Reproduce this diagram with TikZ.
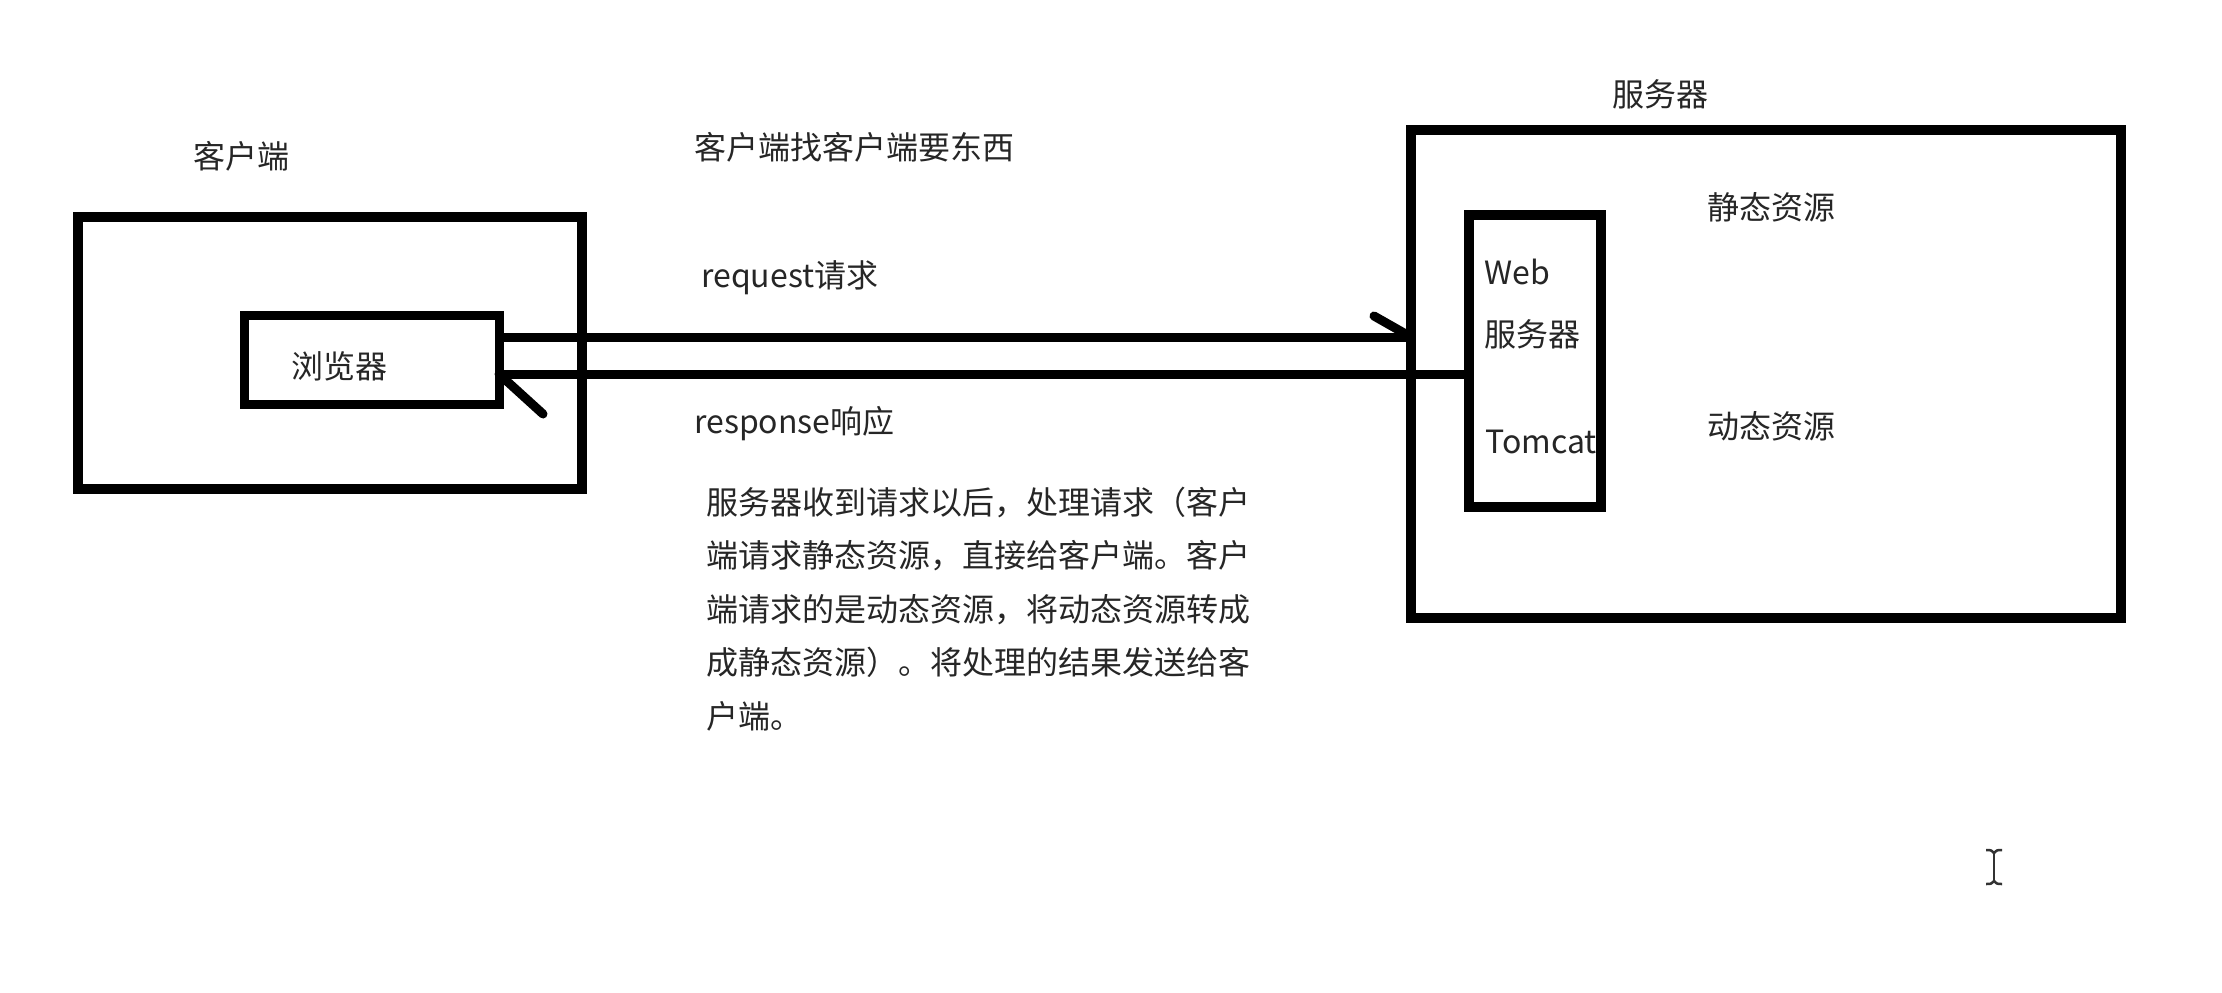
\documentclass[tikz,border=0pt]{standalone}
\usepackage{fontspec}
\setmainfont{Noto Sans CJK SC}
\definecolor{txtc}{RGB}{38,38,38}
\definecolor{inkc}{RGB}{0,0,0}
\tikzset{
  box/.style={draw=inkc, line width=10pt, inner sep=0pt, outer sep=0pt, fill=none},
  lbl/.style={text=txtc, font=\fontsize{32}{38}\selectfont, inner sep=0pt, anchor=west},
  para/.style={text=txtc, font=\fontsize{32}{53.5}\selectfont, inner sep=0pt, anchor=west, align=left},
  conn/.style={draw=inkc, line width=9pt},
  barb/.style={draw=inkc, line width=9pt, line cap=round},
  cursor/.style={draw=black!80, line width=2.5pt}
}
\begin{document}
\begin{tikzpicture}[x=1pt,y=-1pt]
\useasboundingbox[fill=white] (0,0) rectangle (2222,993);

% client side
\node[lbl, anchor=center] (clientlbl) at (241,156) {客户端};
\node[box, minimum width=504pt, minimum height=272pt] (client) at (330,353) {};
\node[box, line width=9pt, minimum width=255pt, minimum height=89pt] (browser) at (371.5,359.5) {};
\node[lbl, anchor=center] (browserlbl) at (339,366) {浏览器};

% labels in the middle
\node[lbl] (ask) at (694,147) {客户端找客户端要东西};
\node[lbl] (reqlbl) at (701,278) {request请求};
\node[lbl] (reslbl) at (694,424) {response响应};
\node[para] (desc) at (706,609) {服务器收到请求以后，处理请求（客户\\端请求静态资源，直接给客户端。客户\\端请求的是动态资源，将动态资源转成\\成静态资源）。将处理的结果发送给客\\户端。};

% server side
\node[lbl, anchor=center] (serverlbl) at (1660,94) {服务器};
\node[box, minimum width=710pt, minimum height=488pt] (server) at (1766,374) {};
\node[lbl] (weblbl) at (1484,272) {Web};
\node[lbl] (websrvlbl) at (1484,334) {服务器};
\node[lbl] (tomcatlbl) at (1485,442) {Tomcat};
\node[box, minimum width=132pt, minimum height=292pt] (web) at (1535,361) {};
\node[lbl] (static) at (1707,207) {静态资源};
\node[lbl] (dynamic) at (1707,426) {动态资源};

% connectors
\coordinate (yreq) at (0,337);
\coordinate (yres) at (0,374);
\coordinate (reqS) at (browser.east |- yreq);
\coordinate (reqE) at (server.west |- yreq);
\coordinate (resS) at (web.west |- yres);
\coordinate (resE) at (browser.east |- yres);
\draw[conn] (reqS) -- (reqE);
\draw[barb] (reqE) -- ++(-37,-21);
\draw[conn] (resS) -- (resE);
\draw[barb] (resE) -- ++(44,40);

% text cursor
\coordinate (curT) at (1994,853);
\coordinate (curB) at (1994,881);
\draw[cursor] (curT) -- (curB);
\draw[cursor] (1986,850) .. controls (1991,850) .. (curT) .. controls (1997,850) .. (2002,850);
\draw[cursor] (1986,884) .. controls (1991,884) .. (curB) .. controls (1997,884) .. (2002,884);
\end{tikzpicture}
\end{document}
